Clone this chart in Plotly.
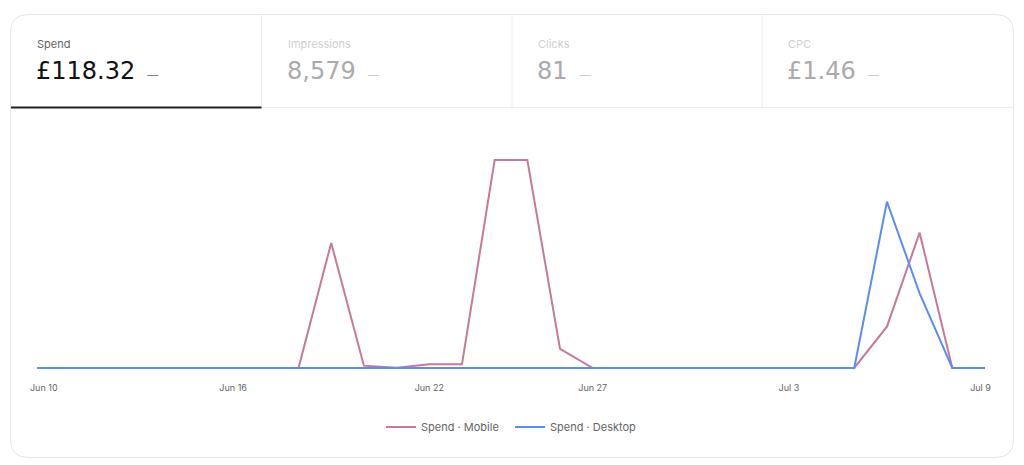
import plotly.graph_objects as go
import pandas as pd

W, H = 1024, 465

# ---- data ----
dates = pd.date_range("2024-06-10", "2024-07-09", freq="D")
spend_mobile = [0, 0, 0, 0, 0, 0, 0, 0, 0, 14.98,
                0.28, 0.04, 0.44, 0.44, 24.92, 24.92, 2.28, 0, 0, 0,
                0, 0, 0, 0, 0, 0, 4.95, 16.21, 0, 0]
spend_desktop = [0, 0, 0, 0, 0, 0, 0, 0, 0, 0,
                 0, 0, 0, 0, 0, 0, 0, 0, 0, 0,
                 0, 0, 0, 0, 0, 0, 19.92, 8.95, 0, 0]
tick_dates = ["2024-06-10", "2024-06-16", "2024-06-22", "2024-06-27", "2024-07-03", "2024-07-09"]
tick_labels = ["Jun 10", "Jun 16", "Jun 22", "Jun 27", "Jul 3", "Jul 9"]

tab_labels = ["Spend", "Impressions", "Clicks", "CPC"]
tab_values = ["£118.32", "8,579", "81", "£1.46"]

MOBILE = "#c8789a"
DESKTOP = "#5b8ef0"


def px(x):
    return x / W


def py(y):
    return 1 - y / H


fig = go.Figure()
fig.add_trace(go.Scatter(x=dates, y=spend_mobile, mode="lines", name="Spend · Mobile",
                         line=dict(color=MOBILE, width=2), hoverinfo="skip"))
fig.add_trace(go.Scatter(x=dates, y=spend_desktop, mode="lines", name="Spend · Desktop",
                         line=dict(color=DESKTOP, width=2), hoverinfo="skip"))

# plot area geometry (pixels)
plot_l, plot_r, plot_t, plot_b = 37, 985, 130, 372

shapes = []
# card outline with rounded corners
x0, y0, x1, y1, r = 10.5, 14.5, 1013.5, 457.5, 18


def P(x, y):
    return f"{px(x):.5f},{py(y):.5f}"


path = (f"M{P(x0 + r, y0)} L{P(x1 - r, y0)} Q{P(x1, y0)} {P(x1, y0 + r)} "
        f"L{P(x1, y1 - r)} Q{P(x1, y1)} {P(x1 - r, y1)} "
        f"L{P(x0 + r, y1)} Q{P(x0, y1)} {P(x0, y1 - r)} "
        f"L{P(x0, y0 + r)} Q{P(x0, y0)} {P(x0 + r, y0)} Z")
shapes.append(dict(type="path", xref="paper", yref="paper", path=path,
                   line=dict(color="#e6e6e6", width=1), fillcolor="rgba(0,0,0,0)", layer="below"))

tab_edges = [11, 261.5, 512, 762, 1013]
# vertical dividers
for xe in tab_edges[1:-1]:
    shapes.append(dict(type="line", xref="paper", yref="paper",
                       x0=px(xe), x1=px(xe), y0=py(14.5), y1=py(107),
                       line=dict(color="#ececec", width=1)))
# bottom border of inactive tabs
shapes.append(dict(type="line", xref="paper", yref="paper",
                   x0=px(261.5), x1=px(1013), y0=py(107.5), y1=py(107.5),
                   line=dict(color="#ececec", width=1)))
# active underline
shapes.append(dict(type="line", xref="paper", yref="paper",
                   x0=px(11), x1=px(261.5), y0=py(107.5), y1=py(107.5),
                   line=dict(color="#222222", width=2)))

annotations = []
for i, (lab, val) in enumerate(zip(tab_labels, tab_values)):
    xl = tab_edges[i] + 25
    active = i == 0
    annotations.append(dict(xref="paper", yref="paper", x=px(xl - 1), y=py(44),
                            xanchor="left", yanchor="middle", showarrow=False,
                            text=lab,
                            font=dict(family="Inter, Roboto, sans-serif", size=11,
                                      color="#666666" if active else "#cfcfcf")))
    dash_col = "#888888" if active else "#cccccc"
    annotations.append(dict(xref="paper", yref="paper", x=px(xl - 2), y=py(71),
                            xanchor="left", yanchor="middle", showarrow=False,
                            text=(f"{val}\u2002<span style='font-size:11px;font-family:Inter;"
                                  f"color:{dash_col}'>\u2014</span>"),
                            font=dict(family="DejaVu Sans, sans-serif", size=24,
                                      color="#111111" if active else "#ababab")))

# edge labels are nudged inward like the original chart
tick_text = list(tick_labels)
tick_text[0] = "\u2002\u2002\u2002" + tick_text[0]
tick_text[-1] = tick_text[-1] + "\u2002\u2002"

fig.update_layout(
    width=W, height=H,
    margin=dict(l=0, r=0, t=0, b=0, autoexpand=False),
    paper_bgcolor="white", plot_bgcolor="white",
    showlegend=True,
    legend=dict(orientation="h", x=px(510), xanchor="center", y=py(427), yanchor="middle",
                font=dict(family="Inter, Roboto, sans-serif", size=11, color="#666666"),
                itemwidth=30, entrywidth=84, entrywidthmode="pixels",
                bgcolor="rgba(0,0,0,0)"),
    xaxis=dict(domain=[px(plot_l), px(plot_r)], type="date", automargin=False,
               range=["2024-06-10", "2024-07-09"],
               tickvals=tick_dates, ticktext=tick_text,
               showgrid=False, zeroline=False, showline=False, ticks="",
               ticklabelstandoff=9,
               tickfont=dict(family="Inter, Roboto, sans-serif", size=9, color="#666666")),
    yaxis=dict(domain=[py(plot_b), py(plot_t)], range=[-0.48, 28.51], automargin=False,
               showgrid=False, zeroline=False, showline=False, showticklabels=False, ticks=""),
    shapes=shapes,
    annotations=annotations,
    hovermode=False,
)

fig.write_html("out.html", config={"displayModeBar": False})
